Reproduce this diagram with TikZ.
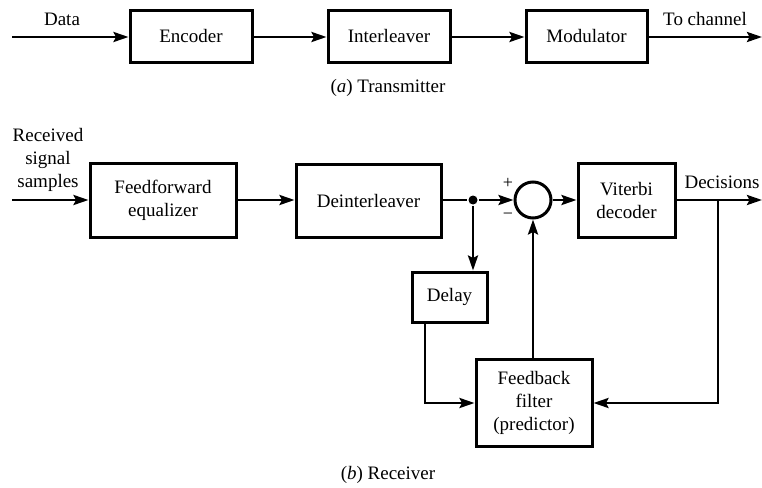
\documentclass[tikz,border=0pt]{standalone}
\usepackage{fontspec}
\setmainfont{Liberation Serif}
\usetikzlibrary{arrows.meta}
\begin{document}
\begin{tikzpicture}[x=1pt,y=-1pt,
  line width=2.6pt,
  blk/.style={draw,line width=3pt,inner sep=0pt,align=center,font=\fontsize{19}{23}\selectfont},
  lbl/.style={inner sep=0pt,align=center,font=\fontsize{19}{23}\selectfont},
  sgn/.style={inner sep=0pt,font=\fontsize{18}{20}\selectfont},
  arr/.style={-{Stealth[length=15pt,width=10pt,inset=2.5pt]}},
]
\useasboundingbox (0,0) rectangle (762,487);
% Transmitter
\node[blk,minimum width=122pt,minimum height=51pt] (enc) at (191,36.5) {Encoder};
\node[blk,minimum width=122pt,minimum height=51pt] (int) at (389,36.5) {Interleaver};
\node[blk,minimum width=121pt,minimum height=51pt] (mod) at (586.5,36.5) {Modulator};
\coordinate (din) at (12,37);
\coordinate (tout) at (762,37);
\node[lbl] (data) at (62,19) {Data};
\node[lbl] (toch) at (705,19) {To channel};
\node[lbl] (capa) at (388,88) {(\textit{a}) Transmitter};
\draw[arr] (din) -- (enc.west |- din);
\draw[arr] (enc.east |- din) -- (int.west |- din);
\draw[arr] (int.east |- din) -- (mod.west |- din);
\draw[arr] (mod.east |- tout) -- (tout);
% Receiver
\coordinate (rin) at (12,200);
\node[lbl] (rxt) at (48,159.5) {Received\\signal\\samples};
\node[blk,minimum width=146pt,minimum height=74pt] (ff) at (163,200) {Feedforward\\equalizer};
\node[blk,minimum width=145pt,minimum height=73pt] (dei) at (368.5,200.5) {Deinterleaver};
\node[circle,fill,inner sep=0pt,minimum size=9pt] (dot) at (473,200) {};
\node[circle,draw,line width=3pt,minimum size=36pt,inner sep=0pt] (sum) at (533,200) {};
\node[sgn] (plus) at (508,183) {+};
\node[sgn] (minus) at (508,216) {−};
\node[blk,minimum width=97pt,minimum height=74pt] (vit) at (626.5,200) {Viterbi\\decoder};
\coordinate (dec) at (718,200);
\coordinate (rout) at (762,200);
\node[lbl] (dect) at (722,182) {Decisions};
\node[blk,minimum width=75pt,minimum height=50pt] (del) at (449.5,297) {Delay};
\node[blk,minimum width=116pt,minimum height=87pt] (fb) at (534,402.5) {Feedback\\filter\\(predictor)};
\node[lbl] (capb) at (388,475) {(\textit{b}) Receiver};
\draw[arr] (rin) -- (ff.west |- rin);
\draw[arr] (ff.east |- rin) -- (dei.west |- rin);
\draw (dei.east |- rin) -- (dot);
\draw[arr] (dot) -- (sum.west);
\draw[arr] (sum.east) -- (vit.west |- sum);
\draw[arr] (vit.east |- rout) -- (rout);
\draw[arr] (dot) -- (dot |- del.north);
\draw[arr] (del.south -| 425,0) |- (fb.west |- 0,403);
\draw[arr] (dec) |- (fb.east |- 0,403);
\draw[arr] (fb.north -| sum.south) -- (sum.south);
\end{tikzpicture}
\end{document}
